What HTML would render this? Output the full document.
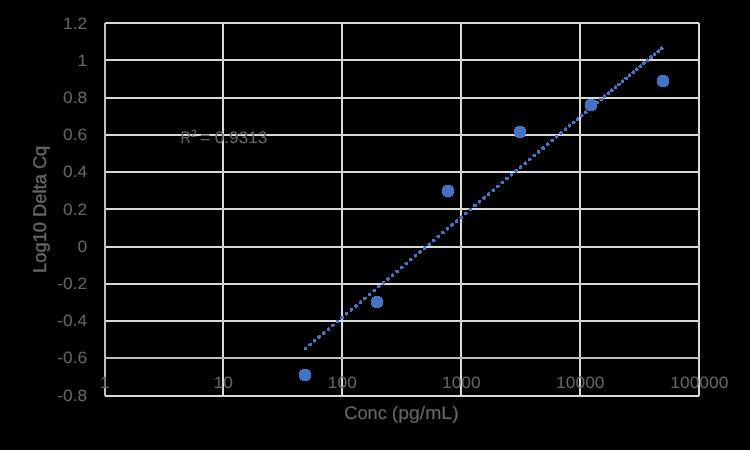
<!DOCTYPE html>
<html><head><meta charset="utf-8"><title>Chart</title>
<style>
html,body{margin:0;padding:0;background:#000;}
body{width:750px;height:450px;overflow:hidden;font-family:"Liberation Sans",sans-serif;}
svg{display:block;will-change:transform;}
text{font-family:"Liberation Sans",sans-serif;fill:#646464;stroke:#646464;stroke-width:0.08px;text-rendering:geometricPrecision;}
text.t{stroke-width:0.45px;}
.h text{stroke-width:0.2px;}
</style></head><body>
<svg width="750" height="450" viewBox="0 0 750 450">

<g shape-rendering="crispEdges">
<rect x="105" y="22" width="594" height="2" fill="#d9d9d9"/>
<rect x="105" y="59" width="594" height="2" fill="#d9d9d9"/>
<rect x="105" y="97" width="594" height="2" fill="#d9d9d9"/>
<rect x="105" y="134" width="594" height="2" fill="#d9d9d9"/>
<rect x="105" y="171" width="594" height="2" fill="#d9d9d9"/>
<rect x="105" y="208" width="594" height="2" fill="#d9d9d9"/>
<rect x="105" y="246" width="594" height="2" fill="#d9d9d9"/>
<rect x="105" y="283" width="594" height="2" fill="#d9d9d9"/>
<rect x="105" y="320" width="594" height="2" fill="#d9d9d9"/>
<rect x="105" y="357" width="594" height="2" fill="#bfbfbf"/>
<rect x="105" y="395" width="594" height="2" fill="#d9d9d9"/>
<rect x="104" y="23" width="2" height="373" fill="#bfbfbf"/>
<rect x="222" y="23" width="2" height="373" fill="#d9d9d9"/>
<rect x="341" y="23" width="2" height="373" fill="#d9d9d9"/>
<rect x="460" y="23" width="2" height="373" fill="#d9d9d9"/>
<rect x="579" y="23" width="2" height="373" fill="#d9d9d9"/>
<rect x="698" y="23" width="2" height="373" fill="#d9d9d9"/>
</g>
<g fill="#d0d0d0" shape-rendering="crispEdges">
<rect x="222" y="59" width="2" height="2"/><rect x="341" y="59" width="2" height="2"/><rect x="460" y="59" width="2" height="2"/><rect x="579" y="59" width="2" height="2"/><rect x="698" y="59" width="1" height="2"/><rect x="105" y="59" width="1" height="2" fill="#b6b6b6"/>
<rect x="222" y="97" width="2" height="2"/><rect x="341" y="97" width="2" height="2"/><rect x="460" y="97" width="2" height="2"/><rect x="579" y="97" width="2" height="2"/><rect x="698" y="97" width="1" height="2"/><rect x="105" y="97" width="1" height="2" fill="#b6b6b6"/>
<rect x="222" y="134" width="2" height="2"/><rect x="341" y="134" width="2" height="2"/><rect x="460" y="134" width="2" height="2"/><rect x="579" y="134" width="2" height="2"/><rect x="698" y="134" width="1" height="2"/><rect x="105" y="134" width="1" height="2" fill="#b6b6b6"/>
<rect x="222" y="171" width="2" height="2"/><rect x="341" y="171" width="2" height="2"/><rect x="460" y="171" width="2" height="2"/><rect x="579" y="171" width="2" height="2"/><rect x="698" y="171" width="1" height="2"/><rect x="105" y="171" width="1" height="2" fill="#b6b6b6"/>
<rect x="222" y="208" width="2" height="2"/><rect x="341" y="208" width="2" height="2"/><rect x="460" y="208" width="2" height="2"/><rect x="579" y="208" width="2" height="2"/><rect x="698" y="208" width="1" height="2"/><rect x="105" y="208" width="1" height="2" fill="#b6b6b6"/>
<rect x="222" y="246" width="2" height="2"/><rect x="341" y="246" width="2" height="2"/><rect x="460" y="246" width="2" height="2"/><rect x="579" y="246" width="2" height="2"/><rect x="698" y="246" width="1" height="2"/><rect x="105" y="246" width="1" height="2" fill="#b6b6b6"/>
<rect x="222" y="283" width="2" height="2"/><rect x="341" y="283" width="2" height="2"/><rect x="460" y="283" width="2" height="2"/><rect x="579" y="283" width="2" height="2"/><rect x="698" y="283" width="1" height="2"/><rect x="105" y="283" width="1" height="2" fill="#b6b6b6"/>
<rect x="222" y="320" width="2" height="2"/><rect x="341" y="320" width="2" height="2"/><rect x="460" y="320" width="2" height="2"/><rect x="579" y="320" width="2" height="2"/><rect x="698" y="320" width="1" height="2"/><rect x="105" y="320" width="1" height="2" fill="#b6b6b6"/>
<rect x="222" y="357" width="2" height="2" fill="#b0b0b0"/><rect x="341" y="357" width="2" height="2" fill="#b0b0b0"/><rect x="460" y="357" width="2" height="2" fill="#b0b0b0"/><rect x="579" y="357" width="2" height="2" fill="#b0b0b0"/><rect x="698" y="357" width="1" height="2" fill="#b0b0b0"/><rect x="105" y="357" width="1" height="2" fill="#a8a8a8"/>
</g>
<g fill="#4472c4" shape-rendering="crispEdges">
<circle cx="305.5" cy="348.5" r="1.9"/><circle cx="310.1" cy="344.6" r="1.9"/><circle cx="314.7" cy="340.8" r="1.9"/><circle cx="319.2" cy="336.9" r="1.9"/><circle cx="323.8" cy="333.1" r="1.9"/><circle cx="328.4" cy="329.2" r="1.9"/><circle cx="333.0" cy="325.3" r="1.9"/><circle cx="337.6" cy="321.5" r="1.9"/><circle cx="342.1" cy="317.6" r="1.9"/><circle cx="346.7" cy="313.8" r="1.9"/><circle cx="351.3" cy="309.9" r="1.9"/><circle cx="355.9" cy="306.0" r="1.9"/><circle cx="360.5" cy="302.2" r="1.9"/><circle cx="365.0" cy="298.3" r="1.9"/><circle cx="369.6" cy="294.4" r="1.9"/><circle cx="374.2" cy="290.6" r="1.9"/><circle cx="378.8" cy="286.7" r="1.9"/><circle cx="383.4" cy="282.9" r="1.9"/><circle cx="387.9" cy="279.0" r="1.9"/><circle cx="392.5" cy="275.1" r="1.9"/><circle cx="397.1" cy="271.3" r="1.9"/><circle cx="401.7" cy="267.4" r="1.9"/><circle cx="406.3" cy="263.6" r="1.9"/><circle cx="410.8" cy="259.7" r="1.9"/><circle cx="415.4" cy="255.8" r="1.9"/><circle cx="420.0" cy="252.0" r="1.9"/><circle cx="424.6" cy="248.1" r="1.9"/><circle cx="429.2" cy="244.3" r="1.9"/><circle cx="433.7" cy="240.4" r="1.9"/><circle cx="438.3" cy="236.5" r="1.9"/><circle cx="442.9" cy="232.7" r="1.9"/><circle cx="447.5" cy="228.8" r="1.9"/><circle cx="452.1" cy="224.9" r="1.9"/><circle cx="456.6" cy="221.1" r="1.9"/><circle cx="461.2" cy="217.2" r="1.9"/><circle cx="465.8" cy="213.4" r="1.9"/><circle cx="470.4" cy="209.5" r="1.9"/><circle cx="475.0" cy="205.6" r="1.9"/><circle cx="479.5" cy="201.8" r="1.9"/><circle cx="484.1" cy="197.9" r="1.9"/><circle cx="488.7" cy="194.1" r="1.9"/><circle cx="493.3" cy="190.2" r="1.9"/><circle cx="497.9" cy="186.3" r="1.9"/><circle cx="502.4" cy="182.5" r="1.9"/><circle cx="507.0" cy="178.6" r="1.9"/><circle cx="511.6" cy="174.8" r="1.9"/><circle cx="516.2" cy="170.9" r="1.9"/><circle cx="520.7" cy="167.1" r="1.9"/><circle cx="525.2" cy="163.3" r="1.9"/><circle cx="529.7" cy="159.5" r="1.9"/><circle cx="534.2" cy="155.7" r="1.9"/><circle cx="538.7" cy="151.9" r="1.9"/><circle cx="543.2" cy="148.1" r="1.9"/><circle cx="547.7" cy="144.3" r="1.9"/><circle cx="552.2" cy="140.5" r="1.9"/><circle cx="556.7" cy="136.8" r="1.9"/><circle cx="561.2" cy="133.0" r="1.9"/><circle cx="565.7" cy="129.2" r="1.9"/><circle cx="569.7" cy="125.8" r="1.9"/><circle cx="573.7" cy="122.4" r="1.9"/><circle cx="577.7" cy="119.1" r="1.9"/><circle cx="581.7" cy="115.7" r="1.9"/><circle cx="585.7" cy="112.3" r="1.9"/><circle cx="589.5" cy="109.1" r="1.9"/><circle cx="593.4" cy="105.8" r="1.9"/><circle cx="597.2" cy="102.6" r="1.9"/><circle cx="601.1" cy="99.3" r="1.9"/><circle cx="604.6" cy="96.3" r="1.9"/><circle cx="608.2" cy="93.3" r="1.9"/><circle cx="611.8" cy="90.3" r="1.9"/><circle cx="615.4" cy="87.3" r="1.9"/><circle cx="618.9" cy="84.3" r="1.9"/><circle cx="622.5" cy="81.3" r="1.9"/><circle cx="626.1" cy="78.3" r="1.9"/><circle cx="629.6" cy="75.2" r="1.9"/><circle cx="633.2" cy="72.2" r="1.9"/><circle cx="636.8" cy="69.2" r="1.9"/><circle cx="640.3" cy="66.2" r="1.9"/><circle cx="643.9" cy="63.2" r="1.9"/><circle cx="647.5" cy="60.2" r="1.9"/><circle cx="651.1" cy="57.2" r="1.9"/><circle cx="654.6" cy="54.2" r="1.9"/><circle cx="658.2" cy="51.2" r="1.9"/><circle cx="661.8" cy="48.2" r="1.9"/>
</g>
<g fill="#4472c4" shape-rendering="crispEdges">
<path transform="translate(299 369)" d="M3 0h6v1h2v2h1v6h-1v2h-2v1h-6v-1h-2v-2h-1v-6h1v-2h2z"/><path transform="translate(371 296)" d="M3 0h6v1h2v2h1v6h-1v2h-2v1h-6v-1h-2v-2h-1v-6h1v-2h2z"/><path transform="translate(442 185)" d="M3 0h6v1h2v2h1v6h-1v2h-2v1h-6v-1h-2v-2h-1v-6h1v-2h2z"/><path transform="translate(514 126)" d="M3 0h6v1h2v2h1v6h-1v2h-2v1h-6v-1h-2v-2h-1v-6h1v-2h2z"/><path transform="translate(585 99)" d="M3 0h6v1h2v2h1v6h-1v2h-2v1h-6v-1h-2v-2h-1v-6h1v-2h2z"/><path transform="translate(657 75)" d="M3 0h6v1h2v2h1v6h-1v2h-2v1h-6v-1h-2v-2h-1v-6h1v-2h2z"/>
</g>
<g font-size="16.4" text-anchor="end">
<text transform="translate(87.3 28.5) scale(1.061 1)">1.2</text>
<text transform="translate(87.3 65.7) scale(1.061 1)">1</text>
<text transform="translate(87.3 102.9) scale(1.061 1)">0.8</text>
<text transform="translate(87.3 140.1) scale(1.061 1)">0.6</text>
<text transform="translate(87.3 177.3) scale(1.061 1)">0.4</text>
<text transform="translate(87.3 214.5) scale(1.061 1)">0.2</text>
<text transform="translate(87.3 251.7) scale(1.061 1)">0</text>
<text transform="translate(87.3 288.9) scale(1.061 1)">-0.2</text>
<text transform="translate(87.3 326.1) scale(1.061 1)">-0.4</text>
<text transform="translate(87.3 363.3) scale(1.061 1)">-0.6</text>
<text transform="translate(87.3 400.5) scale(1.061 1)">-0.8</text>
</g>
<g font-size="16.4" text-anchor="middle">
<text transform="translate(104.7 387.8) scale(1.061 1)">1</text>
<text transform="translate(223.3 387.8) scale(1.061 1)">10</text>
<text transform="translate(342.3 387.8) scale(1.061 1)">100</text>
<text transform="translate(461.3 387.8) scale(1.061 1)">1000</text>
<text transform="translate(580.3 387.8) scale(1.061 1)">10000</text>
<text transform="translate(699.3 387.8) scale(1.061 1)">100000</text>
</g>
<g class="h" font-size="18.3"><text transform="translate(344.3 418.7) scale(0.996 1)">Conc</text><text text-anchor="end" transform="translate(458.6 418.7) scale(1.06 1)">(pg/mL)</text></g>
<text class="t" font-size="18.3" text-anchor="middle" transform="translate(46.1 209.3) rotate(-90) scale(1.001 1)">Log10 Delta Cq</text>
<g font-size="16.6"><text transform="translate(180.6 143.2) scale(0.87 1)">R</text><text transform="translate(191 136.6)" font-size="10.6">2</text><text transform="translate(199.9 143.2) scale(1.08 1)">=</text><text transform="translate(214.8 143.2) scale(1.035 1)">0.9313</text></g>
</svg>
</body></html>
